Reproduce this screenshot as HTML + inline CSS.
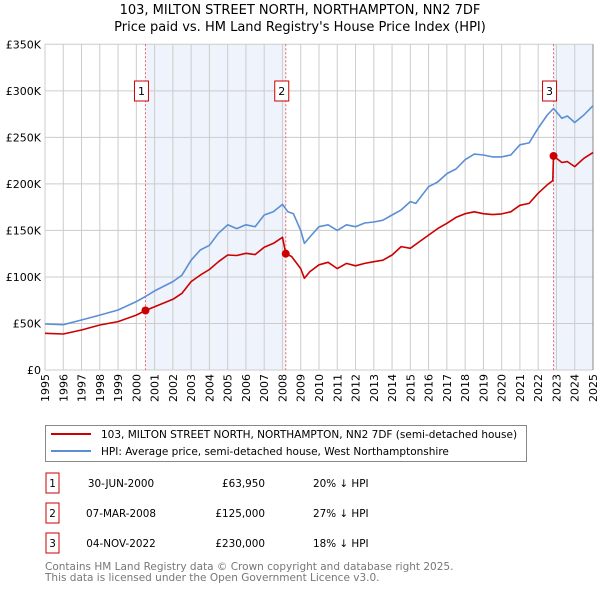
<!DOCTYPE html>
<html><head><meta charset="utf-8"><style>
body{margin:0;background:#fff;font-family:"DejaVu Sans","Liberation Sans",sans-serif;}
svg text{font-family:"DejaVu Sans","Liberation Sans",sans-serif;}
</style></head><body>
<svg id="chart" width="600" height="590" xmlns="http://www.w3.org/2000/svg">
<text x="300" y="14" font-size="13" text-anchor="middle" fill="#000">103, MILTON STREET NORTH, NORTHAMPTON, NN2 7DF</text>
<text x="300" y="31" font-size="13" text-anchor="middle" fill="#000">Price paid vs. HM Land Registry's House Price Index (HPI)</text>
<g id="plot"></g>
<g>
<rect x="45.5" y="425.5" width="481" height="36" fill="#fff" stroke="#888"/>
<line x1="51" y1="434" x2="91" y2="434" stroke="#cc0000" stroke-width="2"/>
<text x="101" y="438" font-size="10.5" fill="#000">103, MILTON STREET NORTH, NORTHAMPTON, NN2 7DF (semi-detached house)</text>
<line x1="51" y1="451" x2="91" y2="451" stroke="#5b8fd4" stroke-width="2"/>
<text x="101" y="455" font-size="10.5" fill="#000">HPI: Average price, semi-detached house, West Northamptonshire</text>
</g>
<g id="table" font-size="10.4" fill="#000"></g>
<text x="45" y="570" font-size="10.5" fill="#777">Contains HM Land Registry data © Crown copyright and database right 2025.</text>
<text x="45" y="581" font-size="10.5" fill="#777">This data is licensed under the Open Government Licence v3.0.</text>
</svg>
<script>
const hpiYears=[1995,1996,1997,1998,1999,2000,2000.5,2001,2002,2002.5,2003,2003.5,2004,2004.5,2005,2005.5,2006,2006.5,2007,2007.5,2008,2008.3,2008.6,2009,2009.2,2009.5,2010,2010.5,2011,2011.5,2012,2012.5,2013,2013.5,2014,2014.5,2015,2015.3,2016,2016.5,2017,2017.5,2018,2018.5,2019,2019.5,2020,2020.5,2021,2021.5,2022,2022.5,2022.84,2023.3,2023.6,2024,2024.5,2025];
const hpiValues=[49.4,48.7,53.7,59,64.5,73.5,79,85,95,102,118,129,134,147,156,152,156,154,166.6,170,178,170,168,150,136,143,154,156,150,156,154,158,159,161,166.6,172,181,179,197,202,211,216,226,232,231,229,229,231,242,244,260,274,281,270.5,273,266,274,284];
const paidYears=[1995,1996,1997,1998,1999,2000,2000.5,2001,2002,2002.5,2003,2003.5,2004,2004.5,2005,2005.5,2006,2006.5,2007,2007.5,2008,2008.18,2008.5,2009,2009.2,2009.5,2010,2010.5,2011,2011.5,2012,2012.5,2013,2013.5,2014,2014.5,2015,2015.5,2016,2016.5,2017,2017.5,2018,2018.5,2019,2019.5,2020,2020.5,2021,2021.5,2022,2022.5,2022.8,2022.84,2023.3,2023.6,2024,2024.5,2025];
const paidValues=[39.4,38.7,43,48.4,52,59,63.95,68,76,82.4,95,102,108,116.4,123.6,123,125.4,124,132,136,142.6,125,122,109,98.5,105.7,113,115.7,109,114.6,112,114.6,116.4,118,123.6,132.6,130.8,138,145,152,157.6,164,168,170,168,167,167.7,170,177,179,190,199,203.5,230,223,224,218.6,227.5,233.6];
const saleLabels=["1","2","3"];
const saleDates=[2000.5,2008.18,2022.84];
const salePrices=[63.95,125,230];
const saleDateText=["30-JUN-2000","07-MAR-2008","04-NOV-2022"];
const salePriceText=["£63,950","£125,000","£230,000"];
const saleHpiText=["20% ↓ HPI","27% ↓ HPI","18% ↓ HPI"];
const yTicks=[0,50,100,150,200,250,300,350];
const yTickLabels=["£0","£50K","£100K","£150K","£200K","£250K","£300K","£350K"];
const xTicks=[];for(let y=1995;y<=2025;y++)xTicks.push(y);

const X0=45,X1=593,Y0=370,Y1=44.3;
const xs=v=>X0+(v-1995)/30*(X1-X0);
const ys=v=>Y0-v/350*(Y0-Y1);
const NS="http://www.w3.org/2000/svg";
const plot=document.getElementById('plot');
function mk(tag,attrs,parent){const e=document.createElementNS(NS,tag);for(const k in attrs)e.setAttribute(k,attrs[k]);(parent||plot).appendChild(e);return e;}
const sh1=mk('rect',{x:xs(saleDates[0]),y:Y1,width:xs(saleDates[1])-xs(saleDates[0]),height:Y0-Y1,fill:'#eef3fc'});


const sh2=mk('rect',{x:xs(saleDates[2]),y:Y1,width:X1-xs(saleDates[2]),height:Y0-Y1,fill:'#eef3fc'});


yTicks.forEach((t,i)=>{
 const l=mk('line',{x1:X0,x2:X1,y1:ys(t),y2:ys(t),stroke:'#ccc','stroke-width':1});
 
 
 const tx=mk('text',{x:X0-4,y:ys(t)+4,'font-size':11,'text-anchor':'end',fill:'#000'});
 tx.textContent=yTickLabels[i];
 
 
});
xTicks.forEach(t=>{
 const l=mk('line',{x1:xs(t),x2:xs(t),y1:Y1,y2:Y0,stroke:'#ccc','stroke-width':1});
 
 
 const tx=mk('text',{x:0,y:0,'font-size':11,'text-anchor':'end',fill:'#000',transform:`translate(${xs(t)+4},374) rotate(-90)`});
 tx.textContent=t;
 
 
});
const rb=mk('line',{x1:X1,x2:X1,y1:Y1,y2:Y0,stroke:'#888','stroke-width':1});


saleDates.forEach((d,i)=>{
 const l=mk('line',{x1:xs(d),x2:xs(d),y1:Y1,y2:Y0,stroke:'#f06060','stroke-width':1,'stroke-dasharray':'2,2'});
 
 
});
function path(xv,yv,col,name){
 const d=xv.map((x,i)=>(i?'L':'M')+xs(x).toFixed(1)+','+ys(yv[i]).toFixed(1)).join('');
 const p=mk('path',{d:d,fill:'none',stroke:col,'stroke-width':1.6,'stroke-linejoin':'round'});
 
 
}
path(hpiYears,hpiValues,'#5b8fd4','hpi-line');
path(paidYears,paidValues,'#cc0000','price-paid-line');
saleDates.forEach((d,i)=>{
 const c=mk('circle',{cx:xs(d),cy:ys(salePrices[i]),r:4,fill:'#cc0000'});
 
 
 const bx=mk('rect',{x:xs(d)-11,y:81,width:14,height:20,fill:'#fff',stroke:'#cc0000'});
 
 
 const t=mk('text',{x:xs(d)-4,y:95,'font-size':11,'text-anchor':'middle',fill:'#000'});
 t.textContent=saleLabels[i];
 
 
});
const tb=document.getElementById('table');
[483,513,543].forEach((ry,i)=>{
 const b=mk('rect',{x:46,y:ry-10,width:13,height:20,fill:'#fff',stroke:'#cc0000'},tb);
 
 
 const n=mk('text',{x:52.5,y:ry+4,'text-anchor':'middle'},tb);n.textContent=saleLabels[i];
 
 
 const dt=mk('text',{x:121,y:ry+4,'text-anchor':'middle'},tb);dt.textContent=saleDateText[i];
 
 
 const pr=mk('text',{x:265,y:ry+4,'text-anchor':'end'},tb);pr.textContent=salePriceText[i];
 
 
 const hp=mk('text',{x:313,y:ry+4},tb);hp.textContent=saleHpiText[i];
 
 
});
</script>
</body></html>
